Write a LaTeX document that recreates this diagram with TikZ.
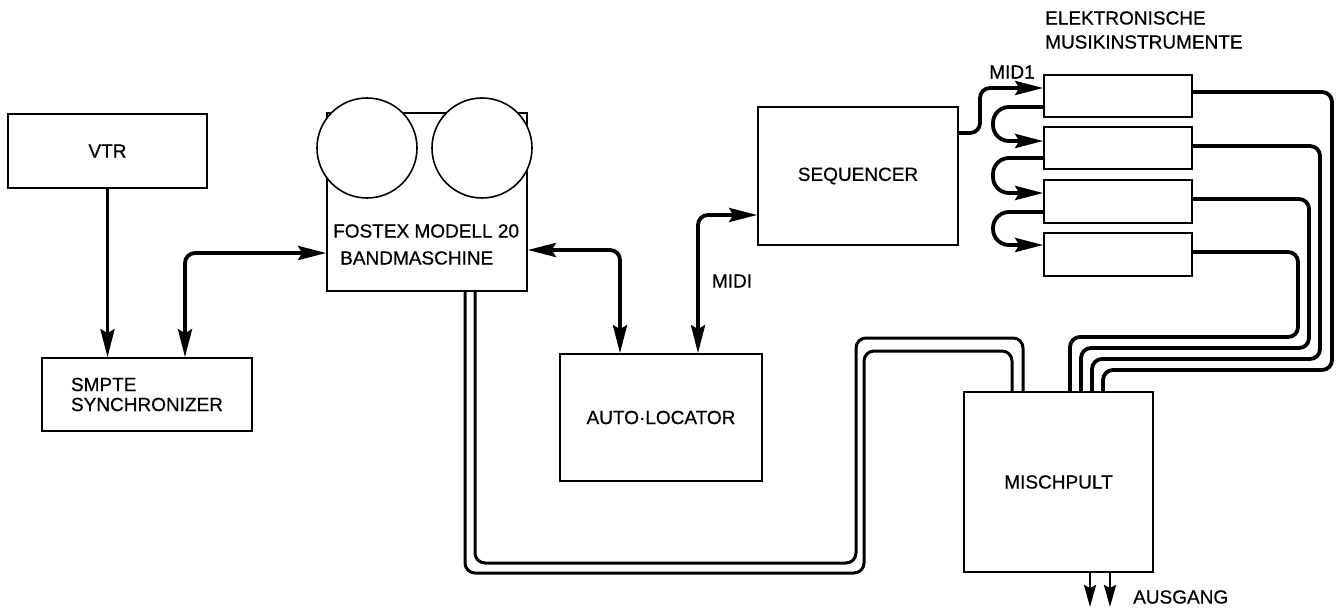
\documentclass[tikz,border=0pt]{standalone}
\usepackage{fontspec}
\setmainfont{Liberation Sans}[FakeBold=0.6]
\usetikzlibrary{arrows.meta}
\begin{document}
\begin{tikzpicture}[x=1pt,y=-1pt,
  box/.style={draw,line width=1.6pt,inner sep=0pt,anchor=center,fill=white,
    font=\fontsize{19}{20}\selectfont},
  reel/.style={draw,circle,line width=1.6pt,fill=white,inner sep=0pt,minimum size=100pt},
  conn/.style={line width=3.8pt,rounded corners=10pt},
  loop/.style={line width=3.8pt,rounded corners=16pt},
  cable/.style={line width=3pt,rounded corners=10pt},
  outarrow/.style={line width=2.6pt,-{Stealth[length=22pt,width=12pt,inset=3pt]}},
  lbl/.style={font=\fontsize{19}{20}\selectfont,inner sep=0pt},
  >={Stealth[length=28pt,width=14pt,inset=4pt]}]
\useasboundingbox (0,0) rectangle (1340,609);

% boxes
\node[box,minimum width=199pt,minimum height=74pt] (vtr) at (107.5,151) {VTR};
\node[box,minimum width=210pt,minimum height=73pt,align=left] (smpte) at (147,394.5) {SMPTE\\SYNCHRONIZER};
\node[box,minimum width=200pt,minimum height=178pt] (fostex) at (427,202) {};
\node[reel] (reelL) at (367,148) {};
\node[reel] (reelR) at (482,148) {};
\node[lbl,anchor=west] (fostexA) at (333,231) {FOSTEX MODELL 20};
\node[lbl,anchor=west] (fostexB) at (340,258) {BANDMASCHINE};
\node[box,minimum width=202pt,minimum height=127pt] (auto) at (661,417.5) {AUTO·LOCATOR};
\node[box,minimum width=200pt,minimum height=138pt] (seq) at (858,176) {SEQUENCER};
\node[box,minimum width=148pt,minimum height=42pt] (inst1) at (1118,96) {};
\node[box,minimum width=148pt,minimum height=42pt] (inst2) at (1118,148) {};
\node[box,minimum width=148pt,minimum height=43pt] (inst3) at (1118,201.5) {};
\node[box,minimum width=148pt,minimum height=43pt] (inst4) at (1118,254.5) {};
\node[box,minimum width=189pt,minimum height=180pt] (mix) at (1058.5,482) {MISCHPULT};

% labels
\node[lbl,anchor=west] (elekA) at (1045,18) {ELEKTRONISCHE};
\node[lbl,anchor=west] (elekB) at (1045,42) {MUSIKINSTRUMENTE};
\node[lbl] (mid1) at (1012,72) {MID1};
\node[lbl] (midi) at (732,281) {MIDI};
\node[lbl,anchor=west] (ausgang) at (1133,597) {AUSGANG};

% VTR -> SMPTE
\draw[conn,->] (vtr.south) -- (vtr.south |- smpte.north);

% SMPTE <-> Fostex
\coordinate (k1) at (185,253);
\draw[conn,<->] (smpte.north -| k1) -- (k1) -- (k1 -| fostex.west);

% Fostex <-> Auto-Locator
\coordinate (k2) at (620,250);
\draw[conn,<->] (k2 -| fostex.east) -- (k2) -- (k2 |- auto.north);

% MIDI: Auto-Locator <-> Sequencer
\coordinate (k3) at (698,215);
\draw[conn,<->] (k3 |- auto.north) -- (k3) -- (k3 -| seq.west);

% MID1: Sequencer -> instrument 1
\coordinate (k4a) at (980,133);
\coordinate (k4b) at (980,88);
\draw[conn,->] (k4a -| seq.east) -- (k4a) -- (k4b) -- (k4b -| inst1.west);

% chain loops
\coordinate (l1a) at (993,107); \coordinate (l1b) at (993,141);
\coordinate (l2a) at (993,158); \coordinate (l2b) at (993,193);
\coordinate (l3a) at (993,212); \coordinate (l3b) at (993,245);
\draw[loop,->] (l1a -| inst1.west) -- (l1a) -- (l1b) -- (l1b -| inst2.west);
\draw[loop,->] (l2a -| inst2.west) -- (l2a) -- (l2b) -- (l2b -| inst3.west);
\draw[loop,->] (l3a -| inst3.west) -- (l3a) -- (l3b) -- (l3b -| inst4.west);

% instrument outputs -> Mischpult
\coordinate (o1a) at (1332,92); \coordinate (o1b) at (1332,370); \coordinate (o1c) at (1103,370);
\coordinate (o2a) at (1320,146); \coordinate (o2b) at (1320,359); \coordinate (o2c) at (1092,359);
\coordinate (o3a) at (1309,199); \coordinate (o3b) at (1309,348); \coordinate (o3c) at (1081,348);
\coordinate (o4a) at (1298,252); \coordinate (o4b) at (1298,337); \coordinate (o4c) at (1070,337);
\draw[conn] (o1a -| inst1.east) -- (o1a) -- (o1b) -- (o1c) -- (o1c |- mix.north);
\draw[conn] (o2a -| inst2.east) -- (o2a) -- (o2b) -- (o2c) -- (o2c |- mix.north);
\draw[conn] (o3a -| inst3.east) -- (o3a) -- (o3b) -- (o3c) -- (o3c |- mix.north);
\draw[conn] (o4a -| inst4.east) -- (o4a) -- (o4b) -- (o4c) -- (o4c |- mix.north);

% double cable Fostex -> Mischpult
\coordinate (a1) at (465,573); \coordinate (a2) at (864,573);
\coordinate (a3) at (864,351); \coordinate (a4) at (1012,351);
\coordinate (b1) at (475,563); \coordinate (b2) at (856,563);
\coordinate (b3) at (856,338); \coordinate (b4) at (1023,338);
\draw[cable] (a1 |- fostex.south) -- (a1) -- (a2) -- (a3) -- (a4) -- (a4 |- mix.north);
\draw[cable] (b1 |- fostex.south) -- (b1) -- (b2) -- (b3) -- (b4) -- (b4 |- mix.north);

% outputs
\coordinate (out1) at (1090,607);
\coordinate (out2) at (1110,607);
\draw[outarrow] (out1 |- mix.south) -- (out1);
\draw[outarrow] (out2 |- mix.south) -- (out2);
\end{tikzpicture}
\end{document}
